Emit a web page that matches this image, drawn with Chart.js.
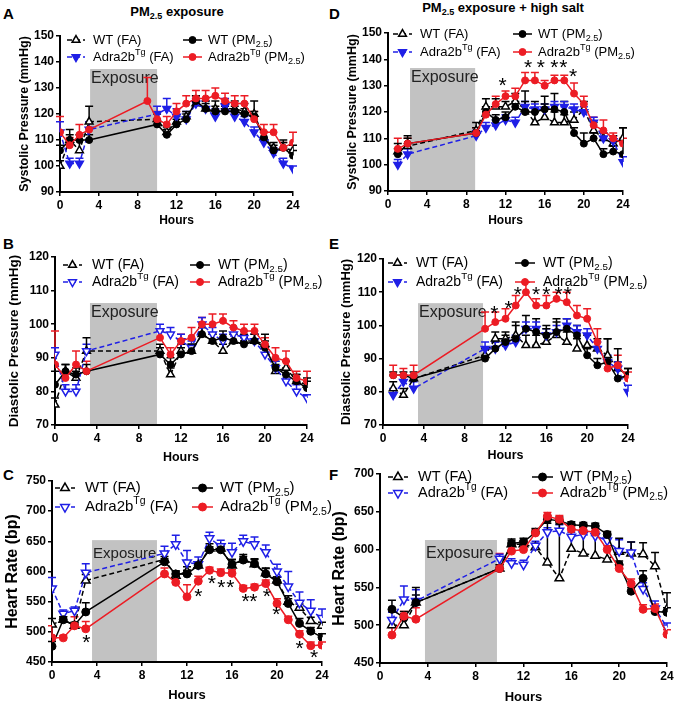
<!DOCTYPE html>
<html>
<head>
<meta charset="utf-8">
<script src="https://cdn.jsdelivr.net/npm/chart.js@4.4.1/dist/chart.umd.min.js"></script>
<style>
body{margin:0;background:#fff;}
#fig{position:relative;width:680px;height:705px;font-family:Arial,"Liberation Sans",sans-serif;color:#000;}
#fig canvas{position:absolute;}
.lab{position:absolute;font-weight:bold;font-size:15px;line-height:1;}
.ttl{position:absolute;font-weight:bold;font-size:13px;line-height:1;transform:translateX(-50%);white-space:nowrap;}
.ttl sub{font-size:9px;vertical-align:-3px;line-height:0;}
</style>
</head>
<body>
<div id="fig">
  <div class="lab" style="left:3px;top:6px">A</div>
  <div class="lab" style="left:329px;top:6px">D</div>
  <div class="lab" style="left:3px;top:236px">B</div>
  <div class="lab" style="left:329px;top:236px">E</div>
  <div class="lab" style="left:3px;top:467px">C</div>
  <div class="lab" style="left:329px;top:467px">F</div>
  <div class="ttl" style="left:177px;top:5px">PM<sub>2.5</sub> exposure</div>
  <div class="ttl" style="left:503px;top:1px">PM<sub>2.5</sub> exposure + high salt</div>
  <canvas id="chartA" width="323" height="202" style="left:17px;top:26px"></canvas>
  <canvas id="chartB" width="334" height="218" style="left:6px;top:247px"></canvas>
  <canvas id="chartC" width="340" height="232" style="left:3px;top:471px"></canvas>
  <canvas id="chartD" width="335" height="205" style="left:345px;top:23px"></canvas>
  <canvas id="chartE" width="341" height="214" style="left:339px;top:249px"></canvas>
  <canvas id="chartF" width="349" height="241" style="left:330px;top:464px"></canvas>
</div>
<script>
// 시간 (hours)
const hoursA = [0,1,2,3,10,11,12,13,14,15,16,17,18,19,20,21,22,23,24];
const hoursA_red = [0,1,2,3,9,10,11,12,13,14,15,16,17,18,19,20,21,22,23,24];
const hoursB = hoursA;
const hoursC = hoursA;
const hoursD = [1,2,9,10,11,12,13,14,15,16,17,18,19,20,21,22,23,24];
const hoursE = [1,2,3,10,11,12,13,14,15,16,17,18,19,20,21,22,23,24];
const hoursF = hoursE;

// A: systolic, PM2.5 exposure
const sysA_wtFA     = [100,110,106,117,118,113,117,119,124,122,122,122,122,121,120,111,107,107,106];
const sysA_wtFA_err = [2,4,4,6,2,2,2,2,3,3,3,2,3,3,5,2,2,3,2];
const sysA_wtPM     = [106,110,110,110,116,112,116,118,125,122,121,121,121,120,119,111,106,107,104];
const sysA_wtPM_err = [2,2,2,2,2,2,2,2,2,2,2,2,2,2,2,2,2,2,2];
const sysA_tgFA     = [113,101,101,114,120,122,119,118,124,122,119,123,119,117,113,109,105,101,99];
const sysA_tgFA_err = [4,2,2,3,3,4,3,3,2,3,3,3,2,2,2,2,2,2,1];
const sysA_tgPM     = [113,108,112,114,125,118,116,121,124,126,126,127,125,124,124,118,113,113,107,109];
const sysA_tgPM_err = [6,3,4,3,9,3,3,3,3,3,3,3,3,3,3,3,3,3,2,4];

// B: diastolic, PM2.5 exposure
const diaB_wtFA     = [76,86,84,92,92,85,92,92,97,95,92,95,95,95,94,86,87,83,82];
const diaB_wtFA_err = [2,2,2,4,2,2,2,2,2,2,2,2,2,2,3,2,2,2,2];
const diaB_wtPM     = [82,86,85,86,91,88,91,92,97,95,96,95,94,95,93,87,85,83,81];
const diaB_wtPM_err = [4,2,2,2,2,2,2,2,2,2,2,2,2,2,2,2,2,2,2];
const diaB_tgFA     = [91,80,80,92,98,97,95,93,100,97,95,97,96,95,91,87,83,80,78];
const diaB_tgFA_err = [2,2,2,2,2,2,2,2,2,2,2,2,2,2,2,2,2,2,1];
const diaB_tgPM     = [88,84,88,86,96,91,95,96,100,100,101,99,98,98,94,90,89,84,83];
const diaB_tgPM_err = [10,2,4,3,2,2,2,3,2,3,2,2,2,2,2,3,3,2,3];

// C: heart rate, PM2.5 exposure
const hrC_wtFA     = [512,520,510,585,620,593,600,610,638,638,610,620,612,597,585,550,540,518,510];
const hrC_wtFA_err = [10,5,5,10,5,8,8,6,8,8,10,8,8,8,6,10,6,6,6];
const hrC_wtPM     = [476,520,511,533,616,596,596,610,636,636,612,619,613,596,583,547,514,501,491];
const hrC_wtPM_err = [8,5,5,15,5,5,6,5,5,6,8,6,8,10,8,8,8,6,6];
const hrC_tgFA     = [572,530,535,598,630,645,615,612,655,642,632,650,645,632,600,575,548,535,523];
const hrC_tgFA_err = [18,6,6,15,12,15,20,12,10,10,15,10,12,12,12,25,18,18,15];
const hrC_tgPM     = [490,490,510,505,596,582,558,584,602,598,597,572,574,580,547,520,496,477,478];
const hrC_tgPM_err = [20,4,15,12,10,10,20,8,5,6,6,5,5,6,8,6,6,6,5];
const hrC_stars    = [[3.05,489],[13,566],[14.2,588],[15.05,580],[15.85,580],[17.2,558],[17.9,558],[19.1,566],[19.95,536],[22,480],[23.3,465]];

// D: systolic, PM2.5 + high salt
const sysD_wtFA     = [105,107,113,122,122,122,124,121,116,118,116,116,117,121,113,110,108,110];
const sysD_wtFA_err = [3,4,3,3,3,2,3,3,4,5,4,3,3,3,3,2,3,4];
const sysD_wtPM     = [104,108,112,120,117,118,122,120,120,121,121,120,112,108,110,104,105,104];
const sysD_wtPM_err = [2,2,2,2,2,2,2,8,4,5,6,4,2,4,2,2,2,10];
const sysD_tgFA     = [100,104,111,114,115,117,116,122,121,121,122,122,121,120,116,110,109,101];
const sysD_tgFA_err = [2,2,2,2,2,2,2,2,2,2,2,2,2,2,2,2,2,2];
const sysD_tgPM     = [106,108,112,119,123,126,126,132,132,130,132,132,127,123,115,113,110,108];
const sysD_tgPM_err = [4,2,2,3,3,2,3,3,3,2,2,2,4,3,3,4,2,2];
const sysD_stars    = [[11.7,131.6],[14.3,138.5],[15.6,138.5],[17,138.5],[17.9,138.5],[18.9,135]];

// E: diastolic, PM2.5 + high salt
const diaE_wtFA     = [81,79,84,91,96,96,97,94,94,95,97,95,93,94,93,91,87,85];
const diaE_wtFA_err = [2,2,2,2,2,2,3,3,3,4,4,3,3,3,3,5,6,2];
const diaE_wtPM     = [85,85,84,90,93,95,96,99,98,97,98,99,97,91,88,89,84,85];
const diaE_wtPM_err = [1,1,1,1,2,2,5,4,4,3,4,3,3,2,2,7,5,2];
const diaE_tgFA     = [79,83,81,93,93,94,95,99,99,97,98,100,98,97,93,89,87,80];
const diaE_tgFA_err = [2,2,2,2,2,2,2,2,2,2,2,2,2,2,2,2,2,2];
const diaE_tgPM     = [85,85,85,99,101,102,106,110,106,106,108,107,103,102,95,87,88,84];
const diaE_tgPM_err = [3,2,3,5,3,3,3,3,2,3,2,3,3,3,4,2,3,2];
const diaE_stars    = [[10.9,105],[12.3,106.5],[13.2,110.7],[15.0,110.7],[16.0,110.7],[17.2,110.7],[18.1,110.7]];

// F: heart rate, PM2.5 + high salt
const hrF_wtFA     = [500,500,530,575,607,607,603,583,562,601,595,592,587,597,595,594,578,521];
const hrF_wtFA_err = [10,15,20,5,5,5,5,52,72,32,38,40,35,18,15,15,18,22];
const hrF_wtPM     = [521,510,530,575,608,610,623,640,638,633,632,631,620,580,545,562,518,517];
const hrF_wtPM_err = [12,8,10,5,6,5,5,5,5,4,4,4,4,5,5,10,6,6];
const hrF_tgFA     = [507,534,532,588,582,580,605,623,625,617,620,618,612,598,596,548,522,497];
const hrF_tgFA_err = [10,18,15,6,6,6,6,6,8,6,6,6,6,15,14,8,10,6];
const hrF_tgPM     = [487,512,508,575,598,600,622,644,640,627,625,623,600,575,555,521,522,488];
const hrF_tgPM_err = [10,6,15,20,6,6,5,5,5,5,5,5,5,5,6,6,6,6];

const BLUE = '#1f1fe6';
const RED = '#ec1c24';
const FONT = 'Arial, "Liberation Sans", sans-serif';

const LABELS = {
    wtFA: [{t:'WT (FA)'}],
    wtPM: [{t:'WT (PM'},{t:'2.5',sub:1},{t:')'}],
    tgFA: [{t:'Adra2b'},{t:'Tg',sup:1},{t:' (FA)'}],
    tgPM: [{t:'Adra2b'},{t:'Tg',sup:1},{t:' (PM'},{t:'2.5',sub:1},{t:')'}],
};

function richText(ctx, parts, x, y, size){
    for (const p of parts) {
        let fs = size, dy = 0;
        if (p.sub) { fs = size * 0.7; dy = size * 0.32; }
        if (p.sup) { fs = size * 0.7; dy = -size * 0.38; }
        ctx.font = fs + 'px ' + FONT;
        ctx.fillText(p.t, x, y + dy);
        x += ctx.measureText(p.t).width;
    }
}

function pts(hours, vals){
    return hours.map((h, i) => ({x: h, y: vals[i]}));
}

// 노출 박스, 에러바, 별표, 범례
const extrasPlugin = {
    id: 'extras',
    beforeDatasetsDraw(chart){
        const o = chart.options.plugins.extras;
        const ctx = chart.ctx, xs = chart.scales.x, ys = chart.scales.y, ca = chart.chartArea;
        ctx.save();
        const x0 = xs.getPixelForValue(o.expo[0]), x1 = xs.getPixelForValue(o.expo[1]);
        const yt = ys.getPixelForValue(o.expo[2]);
        ctx.fillStyle = '#c2c2c2';
        ctx.fillRect(x0, yt, x1 - x0, ca.bottom - 1 - yt);
        ctx.fillStyle = '#222';
        ctx.font = o.expoSize + 'px ' + FONT;
        ctx.textBaseline = 'middle';
        ctx.fillText('Exposure', x0 + 1, yt + o.expoDy);
        chart.data.datasets.forEach((ds, di) => {
            const meta = chart.getDatasetMeta(di);
            ctx.strokeStyle = ds.borderColor;
            ctx.lineWidth = 1.5;
            ctx.setLineDash([]);
            ds.data.forEach((d, i) => {
                const e = ds.errs[i];
                const px = meta.data[i].x, py = meta.data[i].y;
                const top = ys.getPixelForValue(d.y + e);
                ctx.beginPath();
                ctx.moveTo(px, py);
                ctx.lineTo(px, top);
                ctx.moveTo(px - 4, top);
                ctx.lineTo(px + 4, top);
                ctx.stroke();
            });
        });
        ctx.restore();
    },
    afterDatasetsDraw(chart){
        const o = chart.options.plugins.extras;
        const ctx = chart.ctx, xs = chart.scales.x, ys = chart.scales.y, ca = chart.chartArea;
        ctx.save();
        ctx.fillStyle = '#000';
        ctx.font = '21px ' + FONT;
        ctx.textAlign = 'center';
        ctx.textBaseline = 'middle';
        (o.stars || []).forEach(s => {
            ctx.fillText('*', xs.getPixelForValue(s[0]), ys.getPixelForValue(s[1]) + 5);
        });
        // 범례
        const L = o.legend;
        ctx.textAlign = 'left';
        const slots = [['wtFA', L.r1, 0], ['wtPM', L.r1, 1], ['tgFA', L.r2, 0], ['tgPM', L.r2, 1]];
        slots.forEach(([key, row, col]) => {
            const ds = chart.data.datasets.find(d => d.key === key);
            const a = ca.left + (col ? L.c2[0] : L.c1[0]);
            const b = ca.left + (col ? L.c2[1] : L.c1[1]);
            const t = ca.left + (col ? L.c2[2] : L.c1[2]);
            const y = ca.top + row;
            ctx.strokeStyle = ds.borderColor;
            ctx.lineWidth = 1.5;
            ctx.setLineDash(ds.borderDash || []);
            ctx.beginPath();
            ctx.moveTo(a, y);
            ctx.lineTo(b, y);
            ctx.stroke();
            ctx.setLineDash([]);
            ctx.fillStyle = ds.pointBackgroundColor;
            ctx.strokeStyle = ds.pointBorderColor;
            ctx.lineWidth = ds.pointBorderWidth;
            Chart.helpers.drawPoint(ctx, {pointStyle: ds.pointStyle, rotation: ds.pointRotation || 0, radius: ds.pointRadius, borderWidth: ds.pointBorderWidth}, (a + b) / 2, y);
            ctx.fillStyle = '#000';
            richText(ctx, LABELS[key], t, y, L.fs);
        });
        ctx.restore();
    }
};

function makePanel(p){
    const big = p.big ? 0.5 : 0;
    const datasets = [
        { key: 'tgPM', data: pts(p.hoursRed || p.hours, p.tgPM), errs: p.tgPMErr, borderColor: RED,
          pointStyle: 'circle', pointRadius: 3.5 + big, pointBackgroundColor: RED, pointBorderColor: RED, pointBorderWidth: 1 },
        { key: 'wtPM', data: pts(p.hours, p.wtPM), errs: p.wtPMErr, borderColor: '#000',
          pointStyle: 'circle', pointRadius: 3.5 + big, pointBackgroundColor: '#000', pointBorderColor: '#000', pointBorderWidth: 1 },
        { key: 'tgFA', data: pts(p.hours, p.tgFA), errs: p.tgFAErr, borderColor: BLUE, borderDash: [5, 3],
          pointStyle: 'triangle', pointRotation: 180, pointRadius: 4.5 + big,
          pointBackgroundColor: p.blueOpen ? '#fff' : BLUE, pointBorderColor: BLUE, pointBorderWidth: 1.5 },
        { key: 'wtFA', data: pts(p.hours, p.wtFA), errs: p.wtFAErr, borderColor: '#000', borderDash: [5, 3],
          pointStyle: 'triangle', pointRadius: 4.5 + big, pointBackgroundColor: '#fff', pointBorderColor: '#000', pointBorderWidth: 1.5 },
    ];
    datasets.forEach(d => { d.borderWidth = 1.5; d.tension = 0; d.fill = false; });

    new Chart(document.getElementById(p.id), {
        type: 'line',
        data: { datasets },
        options: {
            responsive: false,
            animation: false,
            devicePixelRatio: 1,
            layout: { padding: { left: 0, top: p.pt, right: p.pr, bottom: 0 } },
            scales: {
                x: {
                    type: 'linear', min: 0, max: 24,
                    ticks: { stepSize: 4, color: '#000', padding: 2, font: { family: FONT, weight: 'bold', size: 12 } },
                    grid: { drawOnChartArea: false, drawTicks: true, tickLength: 4, color: '#000', lineWidth: 1.5 },
                    border: { color: '#000', width: 2 },
                    title: { display: true, text: 'Hours', color: '#000', padding: 0, font: { family: FONT, weight: 'bold', size: p.hoursSize } },
                    afterFit: s => { s.height = p.xh; }
                },
                y: {
                    min: p.ymin, max: p.ymax,
                    ticks: { stepSize: p.ystep, color: '#000', padding: 2, font: { family: FONT, weight: 'bold', size: 12 } },
                    grid: { drawOnChartArea: false, drawTicks: true, tickLength: 4, color: '#000', lineWidth: 1.5 },
                    border: { color: '#000', width: 2 },
                    title: { display: true, text: p.ytitle, color: '#000', padding: 0, font: { family: FONT, weight: 'bold', size: p.ytitleSize } },
                    afterFit: s => { s.width = p.yw; }
                }
            },
            plugins: {
                legend: { display: false },
                tooltip: { enabled: false },
                extras: { expo: p.expo, expoSize: p.expoSize, expoDy: p.expoDy, stars: p.stars, legend: p.legend }
            }
        },
        plugins: [extrasPlugin]
    });
}

makePanel({ id: 'chartA', hours: hoursA, hoursRed: hoursA_red, yw: 43, pt: 10, pr: 47, xh: 36,
    ymin: 90, ymax: 150, ystep: 10, ytitle: 'Systolic Pressure (mmHg)', ytitleSize: 12.5, hoursSize: 12,
    wtFA: sysA_wtFA, wtFAErr: sysA_wtFA_err, wtPM: sysA_wtPM, wtPMErr: sysA_wtPM_err,
    tgFA: sysA_tgFA, tgFAErr: sysA_tgFA_err, tgPM: sysA_tgPM, tgPMErr: sysA_tgPM_err,
    expo: [3.1, 10, 137.3], expoSize: 16, expoDy: 10,
    legend: { r1: 4, r2: 21, c1: [7, 25, 33], c2: [123, 142, 148], fs: 13 } });

makePanel({ id: 'chartB', hours: hoursB, yw: 49, pt: 10, pr: 33, xh: 40, blueOpen: true,
    ymin: 70, ymax: 120, ystep: 10, ytitle: 'Diastolic Pressure (mmHg)', ytitleSize: 13.5, hoursSize: 12.5,
    wtFA: diaB_wtFA, wtFAErr: diaB_wtFA_err, wtPM: diaB_wtPM, wtPMErr: diaB_wtPM_err,
    tgFA: diaB_tgFA, tgFAErr: diaB_tgFA_err, tgPM: diaB_tgPM, tgPMErr: diaB_tgPM_err,
    expo: [3.33, 9.71, 106.3], expoSize: 16, expoDy: 10,
    legend: { r1: 8, r2: 25, c1: [8, 27, 37], c2: [135, 155, 163], fs: 14 } });

makePanel({ id: 'chartC', hours: hoursC, yw: 49, pt: 10, pr: 21, xh: 41, blueOpen: true, big: true,
    ymin: 450, ymax: 750, ystep: 50, ytitle: 'Heart Rate (bp)', ytitleSize: 16, hoursSize: 13,
    wtFA: hrC_wtFA, wtFAErr: hrC_wtFA_err, wtPM: hrC_wtPM, wtPMErr: hrC_wtPM_err,
    tgFA: hrC_tgFA, tgFAErr: hrC_tgFA_err, tgPM: hrC_tgPM, tgPMErr: hrC_tgPM_err,
    expo: [3.56, 9.33, 652], expoSize: 15, expoDy: 14, stars: hrC_stars,
    legend: { r1: 7, r2: 26, c1: [3, 23, 33], c2: [140, 161, 168], fs: 15 } });

makePanel({ id: 'chartD', hours: hoursD, yw: 43, pt: 10, pr: 57, xh: 37,
    ymin: 90, ymax: 150, ystep: 10, ytitle: 'Systolic Pressure (mmHg)', ytitleSize: 12.5, hoursSize: 12,
    wtFA: sysD_wtFA, wtFAErr: sysD_wtFA_err, wtPM: sysD_wtPM, wtPMErr: sysD_wtPM_err,
    tgFA: sysD_tgFA, tgFAErr: sysD_tgFA_err, tgPM: sysD_tgPM, tgPMErr: sysD_tgPM_err,
    expo: [2.25, 8.9, 136.7], expoSize: 16, expoDy: 10, stars: sysD_stars,
    legend: { r1: 1, r2: 19, c1: [5, 24, 32], c2: [125, 144, 150], fs: 13 } });

makePanel({ id: 'chartE', hours: hoursE, yw: 44, pt: 10, pr: 52, xh: 38,
    ymin: 70, ymax: 120, ystep: 10, ytitle: 'Diastolic Pressure (mmHg)', ytitleSize: 13, hoursSize: 12.5,
    wtFA: diaE_wtFA, wtFAErr: diaE_wtFA_err, wtPM: diaE_wtPM, wtPMErr: diaE_wtPM_err,
    tgFA: diaE_tgFA, tgFAErr: diaE_tgFA_err, tgPM: diaE_tgPM, tgPMErr: diaE_tgPM_err,
    expo: [3.43, 9.8, 106.7], expoSize: 16, expoDy: 9, stars: diaE_stars,
    legend: { r1: 4, r2: 23, c1: [5, 24, 33], c2: [132, 152, 160], fs: 14 } });

makePanel({ id: 'chartF', hours: hoursF, yw: 50, pt: 10, pr: 12, xh: 42, blueOpen: true, big: true,
    ymin: 450, ymax: 700, ystep: 50, ytitle: 'Heart Rate (bp)', ytitleSize: 16, hoursSize: 13,
    wtFA: hrF_wtFA, wtFAErr: hrF_wtFA_err, wtPM: hrF_wtPM, wtPMErr: hrF_wtPM_err,
    tgFA: hrF_tgFA, tgFAErr: hrF_tgFA_err, tgPM: hrF_tgPM, tgPMErr: hrF_tgPM_err,
    expo: [3.76, 9.78, 612.7], expoSize: 16, expoDy: 14,
    legend: { r1: 3, r2: 19, c1: [8, 28, 38], c2: [152, 173, 180], fs: 14.5 } });
</script>
</body>
</html>
